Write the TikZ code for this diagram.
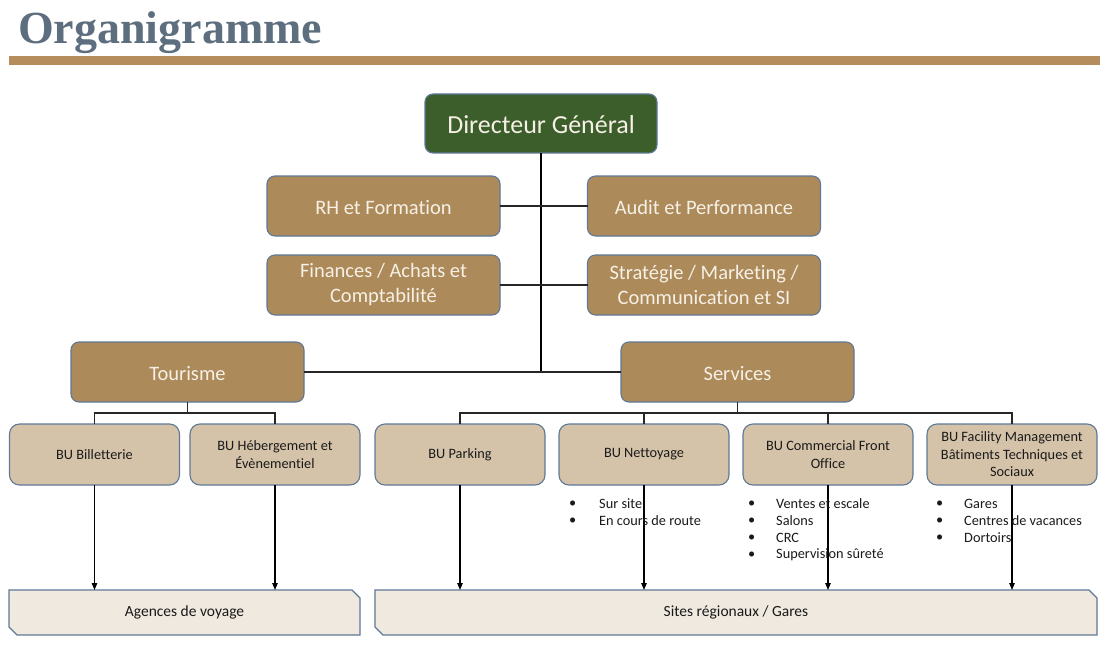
\documentclass[tikz,border=0pt]{standalone}
\usepackage{fontspec}
\setmainfont[Ligatures=NoCommon]{Carlito}
\newfontfamily\titlefont{Liberation Serif}
\usetikzlibrary{arrows.meta}
\definecolor{dgfill}{HTML}{3B5E2B}
\definecolor{tanfill}{HTML}{AD8A5A}
\definecolor{bufill}{HTML}{D5C3A9}
\definecolor{basefill}{HTML}{EFE9DF}
\definecolor{edgecol}{HTML}{5F7896}
\definecolor{titlecol}{HTML}{5D6F7F}
\definecolor{barcol}{HTML}{B58D5C}
\definecolor{lighttext}{HTML}{F6F0E6}
\definecolor{darktext}{HTML}{1A1A1A}
\begin{document}
\begin{tikzpicture}[x=1pt,y=-1pt,
  boxbase/.style={draw=edgecol, line width=1.1pt, rounded corners=8pt, inner sep=0pt, outer sep=0pt, align=center},
  dgbox/.style={boxbase, fill=dgfill, text=lighttext, minimum width=232pt, minimum height=59pt, font=\fontsize{26}{30}\selectfont},
  tanbox/.style={boxbase, fill=tanfill, text=lighttext, minimum width=233pt, minimum height=60pt, font=\fontsize{20.5}{25}\selectfont},
  oneline/.style={text height=#1, text depth=0pt},
  bubox/.style={boxbase, rounded corners=10pt, fill=bufill, text=darktext, minimum width=170pt, minimum height=61pt, font=\fontsize{14.3}{17.5}\selectfont},
  basebox/.style={draw=edgecol, line width=1.1pt, fill=basefill},
  basetext/.style={inner sep=0pt, outer sep=0pt, text=darktext, font=\fontsize{15.5}{18}\selectfont},
  bullettext/.style={inner sep=0pt, anchor=west, text=darktext, font=\fontsize{14.3}{17}\selectfont},
  trunk/.style={draw=black, line width=1.8pt},
  link/.style={draw=black!85, line width=1.3pt},
  arrowlink/.style={draw=black, line width=1.1pt, -{Triangle[length=7pt,width=5.5pt]}}
]
\useasboundingbox (0,0) rectangle (1111,650);

% title and bar
\node[anchor=base west, inner sep=0pt, text=titlecol, font=\titlefont\bfseries\fontsize{46}{50}\selectfont] (title) at (18,44) {Organigramme};
\fill[barcol] (9,56) rectangle (1100,65);

% top levels
\node[dgbox, oneline=20pt] (dg) at (541,123.5) {Directeur Général};
\node[tanbox, oneline=16pt] (rh) at (383.5,206) {RH et Formation};
\node[tanbox, oneline=16pt] (audit) at (704,206) {Audit et Performance};
\node[tanbox] (fin) at (383.5,285) {Finances / Achats et\\Comptabilité};
\node[tanbox] (strat) at (704,285) {Stratégie / Marketing /\\Communication et SI};
\node[tanbox, oneline=16pt] (tour) at (187.5,372) {Tourisme};
\node[tanbox, oneline=16pt] (serv) at (737.5,372) {Services};

% connectors of top levels
\draw[trunk] (dg.south) -- (dg.south |- tour.east);
\draw[link] (rh.east) -- (audit.west);
\draw[link] (fin.east) -- (strat.west);
\draw[link] (tour.east) -- (serv.west);

% BU row
\node[bubox] (bill) at (94.5,454.5) {BU Billetterie};
\node[bubox] (heb) at (275,454.5) {BU Hébergement et\\Évènementiel};
\node[bubox] (park) at (460,454.5) {BU Parking};
\node[bubox] (nett) at (644,454.5) {BU Nettoyage};
\node[bubox] (comm) at (828,454.5) {BU Commercial Front\\Office};
\node[bubox] (fac) at (1012,454.5) {BU Facility Management\\Bâtiments Techniques et\\Sociaux};

\draw[link] (tour.south) -- ++(0,11) -| (bill.north);
\draw[link] (tour.south) -- ++(0,11) -| (heb.north);
\foreach \b in {park,nett,comm,fac}{
  \draw[link] (serv.south) -- ++(0,11) -| (\b.north);
}

% base boxes
\path[basebox] (9,590) -- (352,590) -- (360,598) -- (360,635) -- (17,635) -- (9,627) -- cycle;
\node[basetext, minimum width=351pt, minimum height=45pt] (agences) at (184.5,612.5) {Agences de voyage};
\path[basebox] (375,590) -- (1089,590) -- (1097,598) -- (1097,635) -- (383,635) -- (375,627) -- cycle;
\node[basetext, minimum width=722pt, minimum height=45pt] (sites) at (736,612.5) {Sites régionaux / Gares};

% arrows
\draw[arrowlink] (bill.south) -- (bill.south |- agences.north);
\draw[arrowlink] (heb.south) -- (heb.south |- agences.north);
\foreach \b in {park,nett,comm,fac}{
  \draw[arrowlink] (\b.south) -- (\b.south |- sites.north);
}

% bullet lists
\foreach \t [count=\i] in {Sur site, En cours de route}{
  \node[bullettext] (nb\i) at (569,504+17*\i-17) {\textbullet};
  \node[bullettext] (nt\i) at (599,504+17*\i-17) {\t};
}
\foreach \t [count=\i] in {Ventes et escale, Salons, CRC, Supervision sûreté}{
  \node[bullettext] (cb\i) at (748,504+17*\i-17) {\textbullet};
  \node[bullettext] (ct\i) at (776,504+17*\i-17) {\t};
}
\foreach \t [count=\i] in {Gares, Centres de vacances, Dortoirs}{
  \node[bullettext] (fb\i) at (936,504+17*\i-17) {\textbullet};
  \node[bullettext] (ft\i) at (964,504+17*\i-17) {\t};
}
\end{tikzpicture}
\end{document}
